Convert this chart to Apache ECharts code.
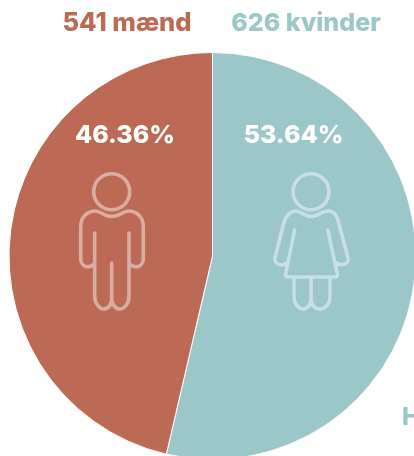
<!DOCTYPE html>
<html>
<head>
<meta charset="utf-8">
<script src="https://cdn.jsdelivr.net/npm/echarts@6/dist/echarts.min.js"></script>
<style>
  html, body { margin: 0; padding: 0; background: #fff; }
  #chart { width: 414px; height: 456px; overflow: hidden; }
</style>
</head>
<body>
<div id="chart"></div>
<script>
// slices run clockwise from the top, so women come first
const categories = ["kvinder", "mænd"];
const counts = [626, 541];
const percentLabels = ["53.64%", "46.36%"];
const colors = ["#9cc7c8", "#bc6a55"];

const font = "Inter, 'Noto Sans', sans-serif";
const iconStroke = { stroke: "rgba(255,255,255,0.45)", lineWidth: 3.6, fill: null, lineCap: "round", lineJoin: "round" };

const manBody = "M94.7 233 V296 C94.7 304 100 309 103.5 309 C108 309 111.7 305 111.7 299 V263 M111.7 299 C111.7 305 116 309 120 309 C124 309 129 304 129 296 V233 " +
  "M94.7 263 C92 267 88 267 86 266.5 C82.5 265.5 80.7 262 80.7 259 V226 C80.7 217 88 211 95 211 C101 211 104 216.5 111.7 216.5 C119 216.5 123 211 129 211 C136 211 143.3 217 143.3 226 V259 C143.3 262 141.5 265.5 138 266.5 C136 267 132 267 129 263";
const womanBody = "M294.7 230 L286 272 C285 275 285.5 277 288 277 H335 C337.5 277 338 275 337 272 L327.7 230 " +
  "M287 263 C284 265 280 265 278 264 C275.5 263 274.5 260 275 258 L284 222 C286 215 291 211 296 211 C301 211 304 216.5 311 216.5 C318 216.5 322 211 328 211 C333 211 337 215 338.5 222 L348 258 C348.5 260 347.5 263 345 264 C343 265 339 265 336.5 263 " +
  "M294 278 V297 C294 304 299 309 303 309 C307 309 311 305 311 299 V278 M311 299 C311 305 315 309 320 309 C325 309 330 304 330 297 V278";

// graphic has no plain path type, so the two figures get registered as shapes
echarts.graphic.registerShape("manBody", echarts.graphic.extendPath(manBody));
echarts.graphic.registerShape("womanBody", echarts.graphic.extendPath(womanBody));

const chart = echarts.init(document.getElementById("chart"), null, { renderer: "canvas" });

chart.setOption({
  animation: false,
  series: [{
    type: "pie",
    center: [212.5, 256],
    radius: [0, 203.5],
    startAngle: 90,
    clockwise: true,
    silent: true,
    itemStyle: { borderColor: "#fff", borderWidth: 1 },
    labelLine: { show: false },
    label: {
      show: true,
      position: "inside",
      formatter: p => percentLabels[p.dataIndex],
      color: "#fff",
      fontFamily: font,
      fontWeight: 800,
      fontSize: 25
    },
    labelLayout: p => ({ x: p.dataIndex === 0 ? 293.5 : 125, y: 135, align: "center", verticalAlign: "middle" }),
    data: categories.map((name, i) => ({ name, value: counts[i], itemStyle: { color: colors[i] } }))
  }],
  graphic: [
    { type: "text", x: 127, y: 23, style: { text: counts[1] + " " + categories[1], fill: colors[1], font: "800 25.5px " + font, textAlign: "center", textVerticalAlign: "middle" } },
    { type: "text", x: 306, y: 23, style: { text: counts[0] + " " + categories[0], fill: colors[0], font: "800 25px " + font, textAlign: "center", textVerticalAlign: "middle" } },
    // start of a text that runs off the right edge in the original
    { type: "text", x: 402, y: 418, style: { text: "H", fill: colors[0], font: "800 24px " + font, textVerticalAlign: "middle" } },
    { type: "circle", z: 10, shape: { cx: 111.7, cy: 191.7, r: 18 }, style: iconStroke, silent: true },
    { type: "manBody", z: 10, style: iconStroke, silent: true },
    { type: "circle", z: 10, shape: { cx: 311, cy: 191.7, r: 18 }, style: iconStroke, silent: true },
    { type: "womanBody", z: 10, style: iconStroke, silent: true }
  ]
});
</script>
</body>
</html>
